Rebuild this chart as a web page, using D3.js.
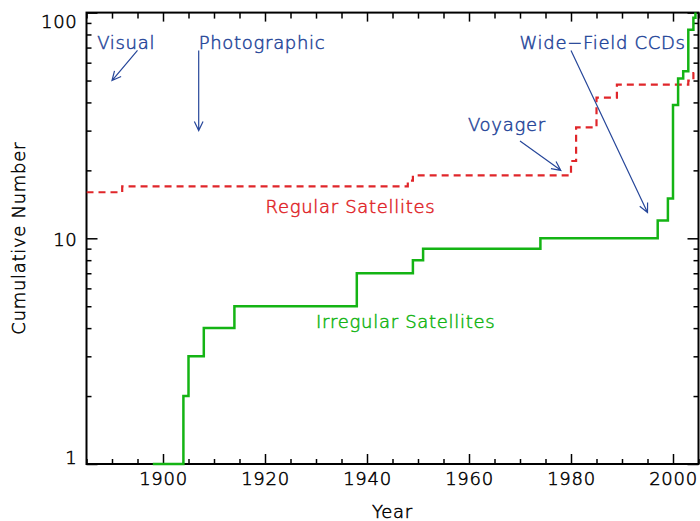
<!DOCTYPE html>
<html>
<head>
<meta charset="utf-8">
<script src="https://cdn.jsdelivr.net/npm/d3@7"></script>
<style>
  body { margin: 0; background: #fff; }
  svg text { font-family: "DejaVu Sans", sans-serif; font-weight: 200; font-size: 18px; letter-spacing: 0.7px; stroke-width: 0.5px; }
</style>
</head>
<body>
<div id="chart"></div>
<script>
// cumulative number of known satellites
var irrYears  = [1898, 1904, 1905, 1908, 1914, 1938, 1949, 1951, 1974, 1997, 1999, 2000, 2001, 2002, 2003, 2004, 2004.4, 2005];
var irrCounts = [1, 2, 3, 4, 5, 7, 8, 9, 10, 12, 15, 39, 51, 55, 84, 95, 112, 112];
var regYears  = [1885, 1892, 1948, 1949, 1980, 1981, 1985, 1989, 2003, 2004, 2005];
var regCounts = [16, 17, 18, 19, 22, 31, 42, 48, 50, 54, 54];

var xMajor = [1900, 1920, 1940, 1960, 1980, 2000];
var xMinor = d3.range(1885, 2006, 5).filter(function (v) { return xMajor.indexOf(v) < 0; });
var yMajor = [1, 10, 100];
var yMinor = [2, 3, 4, 5, 6, 7, 8, 9, 20, 30, 40, 50, 60, 70, 80, 90];

// annotations: label [year, value], arrow from [year, value] to [year, value]
var notes = [
  { text: 'Visual',          at: [1887.1, 74], from: [1895, 68], to: [1890, 50] },
  { text: 'Photographic',    at: [1907, 74],   from: [1907, 68], to: [1907, 30] },
  { text: 'Voyager',         at: [1959.8, 31.8], from: [1970, 27], to: [1978, 20] },
  { text: 'Wide\u2212Field CCDs', at: [1969.9, 74], from: [1980, 68], to: [1995, 13] }
];

const W = 700, H = 521;
const RED = '#e0262a', GREEN = '#14b414', BLUE = '#27479a';

var x = d3.scaleLinear().domain([1885, 2005]).range([86.5, 698.5]);
var y = d3.scaleLog().domain([1, 100]).range([464, 12.6]);

var svg = d3.select('#chart').append('svg')
  .attr('width', W).attr('height', H);

// clip a little below the bottom so the value-1 step sits on the axis
svg.append('clipPath').attr('id', 'plot')
  .append('rect')
  .attr('x', x(1885)).attr('y', y(100))
  .attr('width', x(2005) - x(1885)).attr('height', y(1) - y(100) + 2);

// axes: ticks point inward on all four sides
function styleAxis (g) {
  g.select('.domain').remove();
  g.selectAll('.tick line').attr('stroke', '#000').attr('stroke-width', 1.5);
  g.selectAll('.tick text').attr('fill', '#000').attr('stroke', '#000').style('font-size', '18px');
}

svg.append('g').attr('transform', 'translate(0,' + y(1) + ')')
  .call(d3.axisBottom(x).tickValues(xMajor).tickSize(-10).tickPadding(8).tickFormat(d3.format('d')))
  .call(styleAxis);
svg.append('g').attr('transform', 'translate(0,' + y(1) + ')')
  .call(d3.axisBottom(x).tickValues(xMinor).tickSize(-5).tickFormat(''))
  .call(styleAxis);
svg.append('g').attr('transform', 'translate(0,' + y(100) + ')')
  .call(d3.axisTop(x).tickValues(xMajor).tickSize(-9).tickFormat(''))
  .call(styleAxis);
svg.append('g').attr('transform', 'translate(0,' + y(100) + ')')
  .call(d3.axisTop(x).tickValues(xMinor).tickSize(-6).tickFormat(''))
  .call(styleAxis);

var yl = svg.append('g').attr('transform', 'translate(' + x(1885) + ',0)')
  .call(d3.axisLeft(y).tickValues(yMajor).tickSize(-11).tickPadding(9).tickFormat(d3.format('d')))
  .call(styleAxis);
// end labels are pulled inside the frame
yl.selectAll('.tick text').attr('dy', function (d) {
  return d === 1 ? '-0.02em' : d === 100 ? '0.82em' : '0.4em';
});
svg.append('g').attr('transform', 'translate(' + x(1885) + ',0)')
  .call(d3.axisLeft(y).tickValues(yMinor).tickSize(-5).tickFormat(''))
  .call(styleAxis);
svg.append('g').attr('transform', 'translate(' + x(2005) + ',0)')
  .call(d3.axisRight(y).tickValues(yMajor).tickSize(-11).tickFormat(''))
  .call(styleAxis);
svg.append('g').attr('transform', 'translate(' + x(2005) + ',0)')
  .call(d3.axisRight(y).tickValues(yMinor).tickSize(-5).tickFormat(''))
  .call(styleAxis);

// frame
svg.append('rect')
  .attr('x', x(1885)).attr('y', y(100))
  .attr('width', x(2005) - x(1885)).attr('height', y(1) - y(100))
  .attr('fill', 'none').attr('stroke', '#000').attr('stroke-width', 2);

// step lines, drawn over the frame
var step = d3.line()
  .x(function (d) { return x(d[0]); })
  .y(function (d) { return y(d[1]); })
  .curve(d3.curveStepAfter);

svg.append('path')
  .datum(d3.zip(regYears, regCounts))
  .attr('clip-path', 'url(#plot)')
  .attr('d', step)
  .attr('fill', 'none')
  .attr('stroke', RED)
  .attr('stroke-width', 2.2)
  .attr('stroke-dasharray', '7,5');

svg.append('path')
  .datum(d3.zip(irrYears, irrCounts))
  .attr('clip-path', 'url(#plot)')
  .attr('d', step)
  .attr('fill', 'none')
  .attr('stroke', GREEN)
  .attr('stroke-width', 2.5);

// series labels
svg.append('text')
  .attr('x', x(1920.1)).attr('y', y(13.8)).attr('dy', '0.36em')
  .attr('fill', RED).attr('stroke', RED).text('Regular Satellites');
svg.append('text')
  .attr('x', x(1930)).attr('y', y(4.27)).attr('dy', '0.36em')
  .attr('fill', GREEN).attr('stroke', GREEN).text('Irregular Satellites');

// annotations with open arrowheads
var ann = svg.selectAll('g.note').data(notes).enter().append('g').attr('class', 'note');
ann.append('text')
  .attr('x', function (d) { return x(d.at[0]); })
  .attr('y', function (d) { return y(d.at[1]); })
  .attr('dy', '0.36em')
  .attr('fill', BLUE)
  .attr('stroke', BLUE)
  .text(function (d) { return d.text; });
ann.append('path')
  .attr('fill', 'none')
  .attr('stroke', BLUE)
  .attr('stroke-width', 1.2)
  .attr('d', function (d) {
    var x0 = x(d.from[0]), y0 = y(d.from[1]);
    var x1 = x(d.to[0]), y1 = y(d.to[1]);
    var a = Math.atan2(y1 - y0, x1 - x0);
    var L = 10, s = Math.PI / 7;
    return 'M' + x0 + ',' + y0 + 'L' + x1 + ',' + y1 +
      'M' + (x1 - L * Math.cos(a - s)) + ',' + (y1 - L * Math.sin(a - s)) +
      'L' + x1 + ',' + y1 +
      'L' + (x1 - L * Math.cos(a + s)) + ',' + (y1 - L * Math.sin(a + s));
  });

// axis titles
svg.append('text')
  .attr('x', (x(1885) + x(2005)) / 2).attr('y', 518)
  .attr('text-anchor', 'middle').attr('fill', '#000').attr('stroke', '#000').text('Year');
svg.append('text')
  .attr('transform', 'translate(25,' + (y(1) + y(100)) / 2 + ') rotate(-90)')
  .attr('text-anchor', 'middle').attr('fill', '#000').attr('stroke', '#000').text('Cumulative Number');
</script>
</body>
</html>
